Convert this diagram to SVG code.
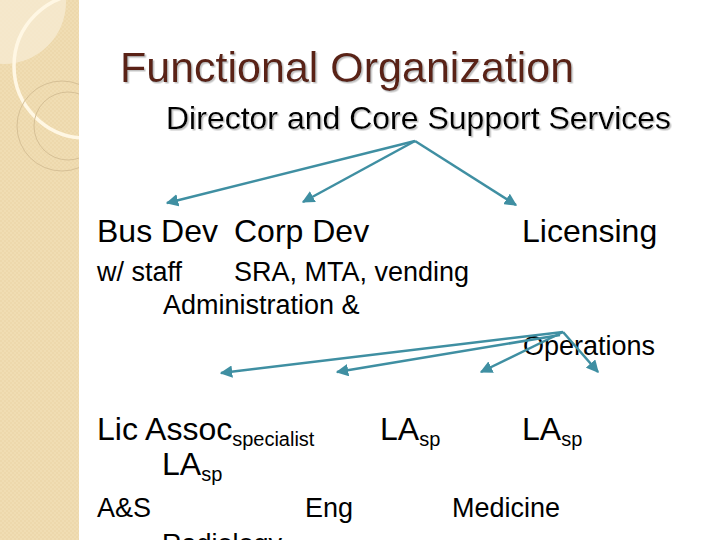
<svg xmlns="http://www.w3.org/2000/svg" width="720" height="540" viewBox="0 0 720 540">
<defs>
<pattern id="chk" width="4" height="4" patternUnits="userSpaceOnUse">
<rect width="4" height="4" fill="#F0DDB3"/>
<rect width="2" height="2" fill="#EDD8AC"/>
<rect x="2" y="2" width="2" height="2" fill="#EDD8AC"/>
</pattern>
<clipPath id="band"><rect x="0" y="0" width="79" height="540"/></clipPath>
<filter id="sh" x="-5%" y="-20%" width="110%" height="150%">
<feDropShadow dx="1.5" dy="1.5" stdDeviation="0.6" flood-color="#BBBBBB" flood-opacity="0.9"/>
</filter>
<marker id="ah" viewBox="0 0 10 10" refX="9" refY="5" markerWidth="5" markerHeight="5" orient="auto" markerUnits="strokeWidth">
<path d="M0,0 L10,5 L0,10 Z" fill="#3F8FA2"/>
</marker>
</defs>
<style>
text{font-family:"Liberation Sans",Arial,sans-serif;fill:#000}
.t{font-size:43px;fill:#5A2418}
.s{font-size:32px}
.n{font-size:32px}
.m{font-size:27px}
.sub{font-size:20px}
.c{stroke:#3F8FA2;stroke-width:2.5;fill:none;marker-end:url(#ah)}
</style>
<rect width="720" height="540" fill="#FFFFFF"/>
<g id="band-deco">
<rect x="0" y="0" width="79" height="540" fill="url(#chk)"/>
<g clip-path="url(#band)">
<circle cx="4" cy="2" r="62" fill="#F6EBD2" opacity="0.8"/>
<circle cx="86" cy="66" r="72" fill="none" stroke="#FFF7E4" stroke-width="3.5"/>
<circle cx="62" cy="126" r="45" fill="none" stroke="#D6C096" stroke-width="1"/>
<circle cx="68" cy="126" r="34" fill="none" stroke="#D6C096" stroke-width="1"/>
</g>
</g>
<g id="title"><text class="t" x="120" y="82" filter="url(#sh)">Functional Organization</text></g>
<g id="director"><text class="s" x="166" y="129" filter="url(#sh)">Director and Core Support Services</text></g>
<g id="busdev"><text class="n" x="97" y="242">Bus Dev</text></g>
<g id="corpdev"><text class="n" x="234" y="242">Corp Dev</text></g>
<g id="licensing"><text class="n" x="522" y="242">Licensing</text></g>
<g id="wstaff"><text class="m" x="97" y="281">w/ staff</text></g>
<g id="sra"><text class="m" x="234" y="281">SRA, MTA, vending</text></g>
<g id="admin"><text class="m" x="163" y="314">Administration &amp;</text></g>
<g id="operations"><text class="m" x="523" y="355">Operations</text></g>
<g id="licassoc"><text class="n" x="97" y="440">Lic Assoc<tspan class="sub" dy="6">specialist</tspan></text></g>
<g id="la2"><text class="n" x="380" y="440">LA<tspan class="sub" dy="6">sp</tspan></text></g>
<g id="la3"><text class="n" x="522" y="440">LA<tspan class="sub" dy="6">sp</tspan></text></g>
<g id="la1"><text class="n" x="162" y="475">LA<tspan class="sub" dy="6">sp</tspan></text></g>
<g id="as"><text class="m" x="97" y="517">A&amp;S</text></g>
<g id="eng"><text class="m" x="305" y="517">Eng</text></g>
<g id="medicine"><text class="m" x="452" y="517">Medicine</text></g>
<g id="radiology"><text class="m" x="162" y="553">Radiology</text></g>
<g id="connectors">
<line class="c" x1="415" y1="141" x2="167" y2="203"/>
<line class="c" x1="415" y1="141" x2="303" y2="202"/>
<line class="c" x1="415" y1="141" x2="516" y2="205"/>
<line class="c" x1="563" y1="332" x2="221" y2="373"/>
<line class="c" x1="560" y1="335" x2="337" y2="372"/>
<line class="c" x1="563" y1="332" x2="481" y2="372"/>
<line class="c" x1="563" y1="332" x2="598" y2="372"/>
</g>
</svg>
